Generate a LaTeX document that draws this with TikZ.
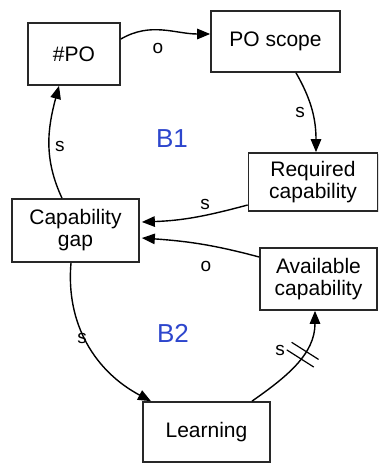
\documentclass[tikz,border=0pt]{standalone}
\usepackage{fontspec}
\setmainfont{Liberation Sans}
\usetikzlibrary{arrows.meta,positioning,decorations.markings,shadows}
\definecolor{inkGray}{RGB}{40,40,40}
\definecolor{loopBlue}{RGB}{45,70,205}
\tikzset{
  var/.style={draw=inkGray, line width=1.7pt, fill=white, align=center,
              inner sep=0pt, font=\fontsize{21}{22}\selectfont,
              drop shadow={shadow xshift=1.2pt, shadow yshift=-1.2pt, opacity=.25}},
  link/.style={-{Triangle[length=13pt,width=10.5pt]}, line width=1.4pt, draw=black},
  sign/.style={font=\fontsize{19}{19}\selectfont, inner sep=0pt},
  loopname/.style={text=loopBlue, font=\fontsize{26}{26}\selectfont, inner sep=0pt},
  delay/.style={postaction={decorate, decoration={markings,
      mark=at position #1 with {\draw[-, line width=1.2pt] (-4.5pt,-16pt) -- (-4.5pt,16pt);
                                \draw[-, line width=1.2pt] (4.5pt,-16pt) -- (4.5pt,16pt);}}}}
}
\begin{document}
\begin{tikzpicture}[x=1pt, y=-1pt]
  \useasboundingbox[fill=white] (0,0) rectangle (379,464);
  % variables
  \node[var, minimum width=92pt, minimum height=62pt] (npo) at (74,54) {\#PO};
  \node[var, minimum width=129pt, minimum height=61pt] (scope) at (275.5,41.5) {PO scope};
  \node[var, minimum width=129pt, minimum height=58pt] (required) at (313,182) {Required\\capability};
  \node[var, minimum width=127pt, minimum height=63pt] (gap) at (75.5,230.5) {Capability\\gap};
  \node[var, minimum width=117pt, minimum height=62pt] (available) at (318.5,279) {Available\\capability};
  \node[var, minimum width=127pt, minimum height=60pt] (learning) at (206.5,432) {Learning};
  % loop names
  \node[loopname] (b1) at (172,139) {B1};
  \node[loopname] (b2) at (173,333) {B2};
  % links
  \draw[link] (npo.east |- 0,39) to[out=30, in=180] (scope.west |- 0,34);
  \draw[link] (scope.south -| 296,0) to[out=-60, in=90] (required.north -| 316,0);
  \draw[link] (required.west |- 0,205) to[out=195, in=2] ([xshift=2pt]gap.east |- 0,222);
  \draw[link] (available.west |- 0,257) to[out=165, in=-4] ([xshift=2pt]gap.east |- 0,238);
  \draw[link] (gap.north -| 62,0) to[out=115, in=-105] (npo.south -| 59,0);
  \draw[link] (gap.south -| 71,0) to[out=-95, in=152] (learning.north -| 151,0);
  \draw[link, delay=0.6] (learning.north -| 252,0) to[out=35, in=-90] (available.south -| 315,0);
  % polarities
  \node[sign] (s1) at (158,48) {o};
  \node[sign] (s2) at (300,112) {s};
  \node[sign] (s3) at (205,204) {s};
  \node[sign] (s4) at (206,266) {o};
  \node[sign] (s5) at (60,146) {s};
  \node[sign] (s6) at (82,338) {s};
  \node[sign] (s7) at (280,350) {s};
\end{tikzpicture}
\end{document}
